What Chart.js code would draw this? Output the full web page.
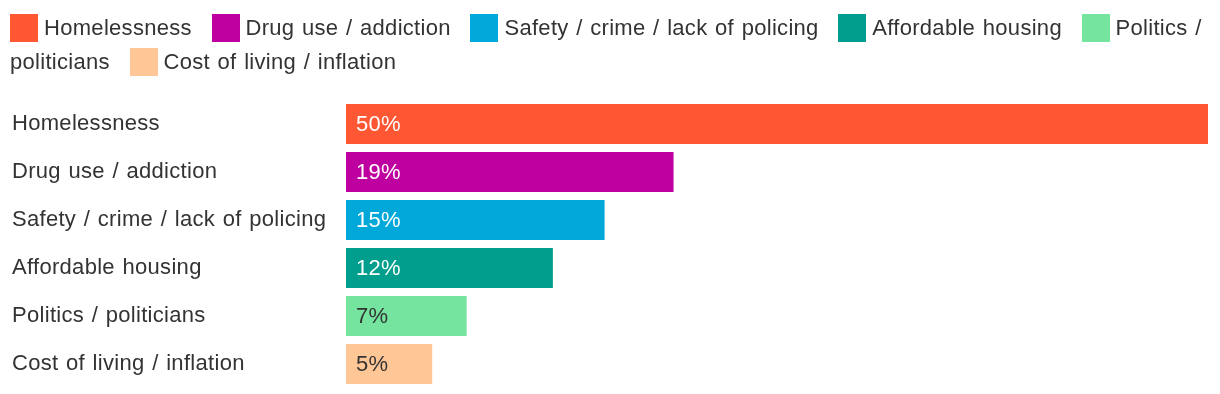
<!DOCTYPE html>
<html lang="en">
<head>
    <meta charset="UTF-8">
    <title>Top issues</title>
    <script src="https://cdn.jsdelivr.net/npm/chart.js"></script>
    <style>
        body {
            margin: 0;
            padding: 0;
            background: #fff;
            font-family: "Liberation Sans", Arial, sans-serif;
            color: #333;
        }

        #wrap {
            position: relative;
            width: 1220px;
            height: 394px;
        }

        #chart {
            position: absolute;
            left: 0;
            top: 0;
        }

        #legend {
            position: absolute;
            left: 10px;
            top: 11px;
            width: 1205px;
            font-size: 22px;
            line-height: 34px;
            letter-spacing: 0.3px;
            word-spacing: 1.2px;
            color: #333;
        }

        #legend .item {
            margin-right: 12px;
        }

        #legend .box {
            display: inline-block;
            width: 28px;
            height: 28px;
            margin-right: 6px;
            vertical-align: -6.5px;
        }
    </style>
</head>

<body>
    <div id="wrap">
        <canvas id="chart" width="1220" height="394"></canvas>
        <div id="legend"></div>
    </div>

    <script>
        // data
        const categories = ["Homelessness", "Drug use / addiction", "Safety / crime / lack of policing", "Affordable housing", "Politics / politicians", "Cost of living / inflation"];
        const shares = [50, 19, 15, 12, 7, 5];
        const colors = ["#FF5734", "#BF00A0", "#00A8DA", "#009E8C", "#74E49F", "#FFC795"];
        const labelColors = ["#fff", "#fff", "#fff", "#fff", "#333", "#333"];

        // legend is html so "Politics / politicians" can wrap like the original
        const legend = document.getElementById("legend");
        categories.forEach((name, i) => {
            const item = document.createElement("span");
            item.className = "item";
            const box = document.createElement("span");
            box.className = "box";
            box.style.background = colors[i];
            item.appendChild(box);
            item.appendChild(document.createTextNode(name));
            legend.appendChild(item);
            legend.appendChild(document.createTextNode(" "));
        });

        // the original font is a little wider
        const spacing = {
            id: "spacing",
            beforeDraw(chart) {
                chart.ctx.letterSpacing = "0.3px";
                chart.ctx.wordSpacing = "1.2px";
            }
        };

        // percentage labels inside the bars
        const valueLabels = {
            id: "valueLabels",
            afterDatasetsDraw(chart) {
                const ctx = chart.ctx;
                const meta = chart.getDatasetMeta(0);
                ctx.save();
                ctx.font = "22px 'Liberation Sans', Arial, sans-serif";
                ctx.textAlign = "left";
                ctx.textBaseline = "middle";
                meta.data.forEach((bar, i) => {
                    ctx.fillStyle = labelColors[i];
                    ctx.fillText(shares[i] + "%", bar.base + 10, bar.y + 1);
                });
                ctx.restore();
            }
        };

        new Chart(document.getElementById("chart"), {
            type: "bar",
            data: {
                labels: categories,
                datasets: [{
                    data: shares,
                    backgroundColor: colors,
                    borderWidth: 0,
                    barPercentage: 40 / 48,
                    categoryPercentage: 1
                }]
            },
            options: {
                indexAxis: "y",
                responsive: false,
                animation: false,
                layout: {
                    padding: { left: 12, right: 12, top: 100, bottom: 6 }
                },
                plugins: {
                    legend: { display: false },
                    tooltip: { enabled: false }
                },
                scales: {
                    x: {
                        display: false,
                        min: 0,
                        max: 50
                    },
                    y: {
                        grid: { display: false },
                        border: { display: false },
                        afterFit(scale) {
                            scale.width = 334;
                            scale.paddingTop = 0;
                            scale.paddingBottom = 0;
                        },
                        ticks: {
                            crossAlign: "far",
                            color: "#333",
                            font: { family: "'Liberation Sans', Arial, sans-serif", size: 22 }
                        }
                    }
                }
            },
            plugins: [spacing, valueLabels]
        });
    </script>
</body>
</html>
